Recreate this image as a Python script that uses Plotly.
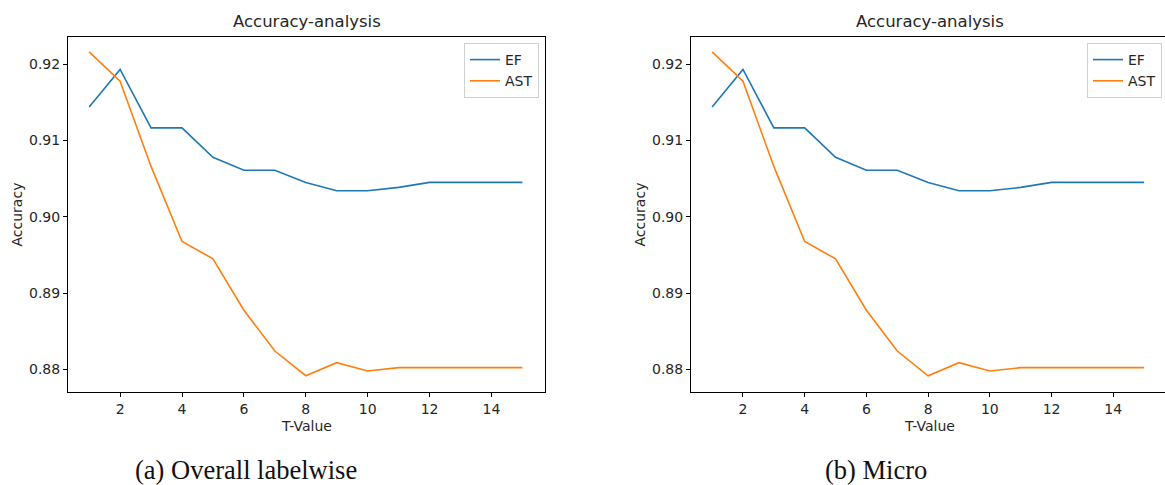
import plotly.graph_objects as go

# T values and accuracy for the two methods (same curves in both panels)
t_values = list(range(1, 16))
ef_acc = [0.9144, 0.9193, 0.91165, 0.91165, 0.9078, 0.9061, 0.9061, 0.9045,
          0.9034, 0.9034, 0.90385, 0.9045, 0.9045, 0.9045, 0.9045]
ast_acc = [0.92161, 0.91777, 0.9066, 0.89675, 0.89449, 0.88775, 0.8824, 0.87916,
           0.88087, 0.87978, 0.88022, 0.88022, 0.88022, 0.88022, 0.88022]
y_ticks = [0.88, 0.89, 0.90, 0.91, 0.92]
x_ticks = [2, 4, 6, 8, 10, 12, 14]
panel_titles = ["Accuracy-analysis", "Accuracy-analysis"]
captions = ["(a) Overall labelwise", "(b) Micro"]

W, H = 1165, 485
BLUE, ORANGE = "#1f77b4", "#ff7f0e"
TXT = "#262626"
FONT = "DejaVu Sans"


def px(x):
    return x / W


def py(y):
    return 1 - y / H


fig = go.Figure()

# panel geometry in pixels: (left, right) of each plot area
panels = [(68, 545, [0.316, 15.73]), (691, 1165, [0.316, 15.676])]
top, bottom = 37, 392
y_range = [0.87703, 0.92356]

for i, (l, r, xr) in enumerate(panels):
    sfx = "" if i == 0 else str(i + 1)
    leg = "legend" if i == 0 else "legend2"
    fig.add_trace(go.Scatter(x=t_values, y=ef_acc, mode="lines", name="EF",
                             line=dict(color=BLUE, width=1.6),
                             xaxis="x" + sfx, yaxis="y" + sfx, legend=leg))
    fig.add_trace(go.Scatter(x=t_values, y=ast_acc, mode="lines", name="AST",
                             line=dict(color=ORANGE, width=1.6),
                             xaxis="x" + sfx, yaxis="y" + sfx, legend=leg))

    fig.layout["xaxis" + sfx] = dict(
        domain=[px(l), px(r)], range=xr, anchor="y" + sfx,
        tickvals=x_ticks, ticks="outside", ticklen=4, tickcolor="#000",
        showline=True, linecolor="#000", linewidth=1, mirror=True,
        showgrid=False, zeroline=False,
        tickfont=dict(family=FONT, size=14, color=TXT),
    )
    fig.layout["yaxis" + sfx] = dict(
        domain=[py(bottom), py(top)], range=y_range, anchor="x" + sfx,
        tickvals=y_ticks, tickformat=".2f", ticks="outside", ticklen=4,
        tickcolor="#000", showline=True, linecolor="#000", linewidth=1,
        mirror=(i == 0), showgrid=False, zeroline=False,
        tickfont=dict(family=FONT, size=14, color=TXT),
    )
    fig.layout[leg] = dict(
        x=px(l + (545 - 68) - 6), y=py(43), xanchor="right", yanchor="top",
        bgcolor="white", bordercolor="#d0d0d0", borderwidth=1,
        font=dict(family=FONT, size=14, color=TXT), itemwidth=30,
    )

    cx = (l + l + 477) / 2
    fig.add_annotation(text=panel_titles[i], x=px(cx), y=py(22), xref="paper",
                       yref="paper", showarrow=False, xanchor="center",
                       yanchor="middle",
                       font=dict(family=FONT, size=16.5, color=TXT))
    fig.add_annotation(text="T-Value", x=px(cx), y=py(426), xref="paper",
                       yref="paper", showarrow=False, xanchor="center",
                       yanchor="middle", font=dict(family=FONT, size=14, color=TXT))
    fig.add_annotation(text="Accuracy", x=px(l - 52), y=py((top + bottom) / 2),
                       xref="paper", yref="paper", showarrow=False, textangle=-90,
                       xanchor="center", yanchor="middle",
                       font=dict(family=FONT, size=14, color=TXT))

fig.add_annotation(text=captions[0], x=px(246), y=py(470), xref="paper",
                   yref="paper", showarrow=False, xanchor="center", yanchor="middle",
                   font=dict(family="Liberation Serif", size=26.5, color="#111"))
fig.add_annotation(text=captions[1], x=px(876), y=py(470), xref="paper",
                   yref="paper", showarrow=False, xanchor="center", yanchor="middle",
                   font=dict(family="Liberation Serif", size=26.5, color="#111"))

fig.update_layout(width=W, height=H, margin=dict(l=0, r=0, t=0, b=0),
                  paper_bgcolor="white", plot_bgcolor="white", showlegend=True)

fig.write_html("out.html")
